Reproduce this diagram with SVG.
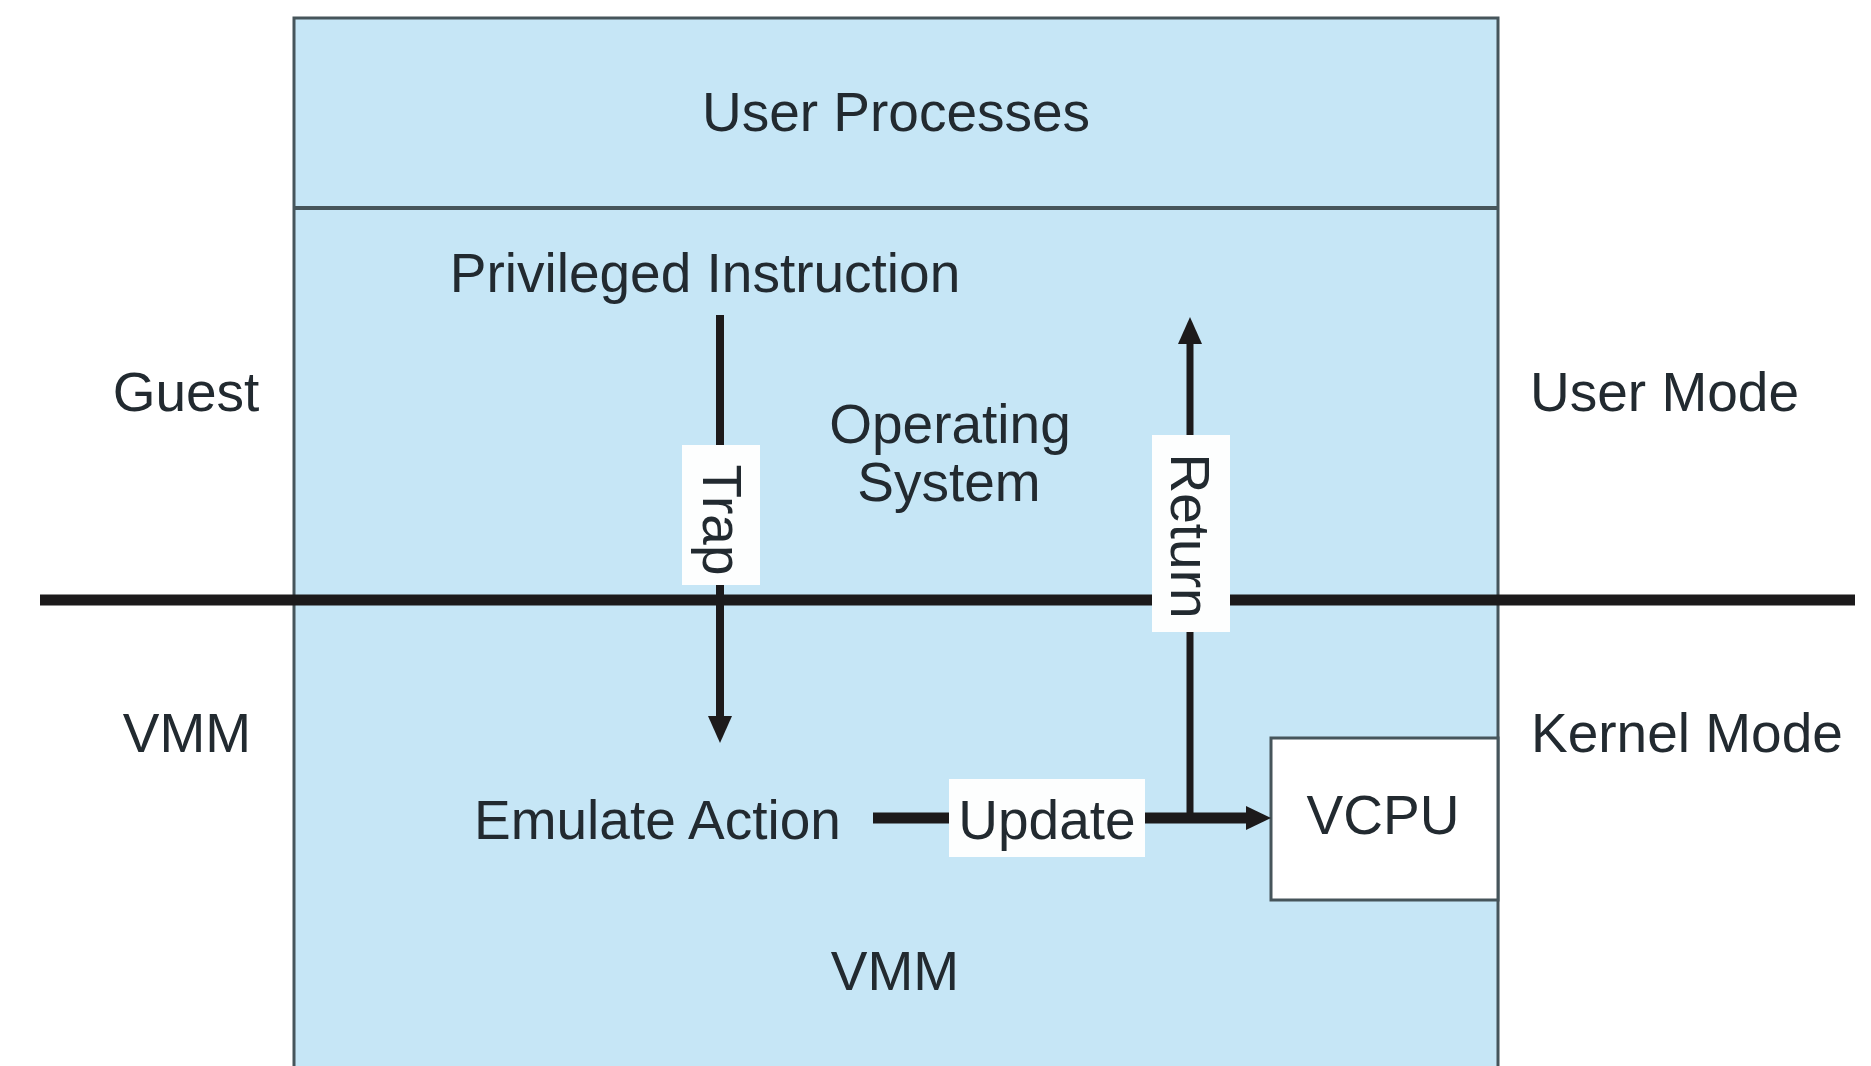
<svg xmlns="http://www.w3.org/2000/svg" width="1871" height="1066" viewBox="0 0 1871 1066">
<style>
.t{font-family:"Liberation Sans",Arial,sans-serif;font-size:55px;fill:#222a30}
.m{text-anchor:middle}
.box{fill:#c6e6f6;stroke:#46555b;stroke-width:3}
.lbl{fill:#fdfefe;stroke:none}
.ln{stroke:#1c1a1b;fill:none}
</style>
<rect width="1871" height="1066" fill="#ffffff"/>
<g id="guest-vm">
<rect class="box" x="294" y="18" width="1204" height="1070"/>
<line x1="294" y1="208" x2="1498" y2="208" stroke="#46555b" stroke-width="4"/>
</g>
<g id="user-processes"><text class="t m" x="896" y="131">User Processes</text></g>
<g id="privileged-instruction"><text class="t m" x="705" y="292">Privileged Instruction</text></g>
<g id="operating-system"><text class="t m" x="950" y="443">Operating</text><text class="t m" x="949" y="501">System</text></g>
<g id="vcpu">
<rect x="1271" y="738" width="227" height="162" fill="#ffffff" stroke="#46555b" stroke-width="3"/>
<text class="t m" x="1383" y="834">VCPU</text>
</g>
<g id="emulate-action"><text class="t" x="474" y="839">Emulate Action</text></g>
<g id="vmm-inner"><text class="t m" x="895" y="990">VMM</text></g>
<g id="side-labels">
<text class="t m" x="186" y="411">Guest</text>
<text class="t m" x="187" y="752">VMM</text>
<text class="t" x="1530" y="411">User Mode</text>
<text class="t" x="1531" y="752">Kernel Mode</text>
</g>
<g id="connectors">
<line class="ln" x1="40" y1="600" x2="1855" y2="600" stroke-width="11"/>
<line class="ln" x1="720" y1="315" x2="720" y2="718" stroke-width="8"/>
<path d="M708,716 L732,716 L720,743 Z" fill="#1c1a1b"/>
<line class="ln" x1="1190" y1="818" x2="1190" y2="342" stroke-width="7"/>
<path d="M1178,344 L1202,344 L1190,317 Z" fill="#1c1a1b"/>
<line class="ln" x1="873" y1="818" x2="1250" y2="818" stroke-width="11"/>
<path d="M1246,806 L1271,818 L1246,830 Z" fill="#1c1a1b"/>
<rect class="lbl" x="682" y="445" width="78" height="140"/>
<text class="t m" transform="translate(703,520) rotate(90)">Trap</text>
<rect class="lbl" x="1152" y="435" width="78" height="197"/>
<text class="t m" transform="translate(1171,536) rotate(90)">Return</text>
<rect class="lbl" x="949" y="779" width="196" height="78"/>
<text class="t m" x="1047" y="839">Update</text>
</g>
</svg>
